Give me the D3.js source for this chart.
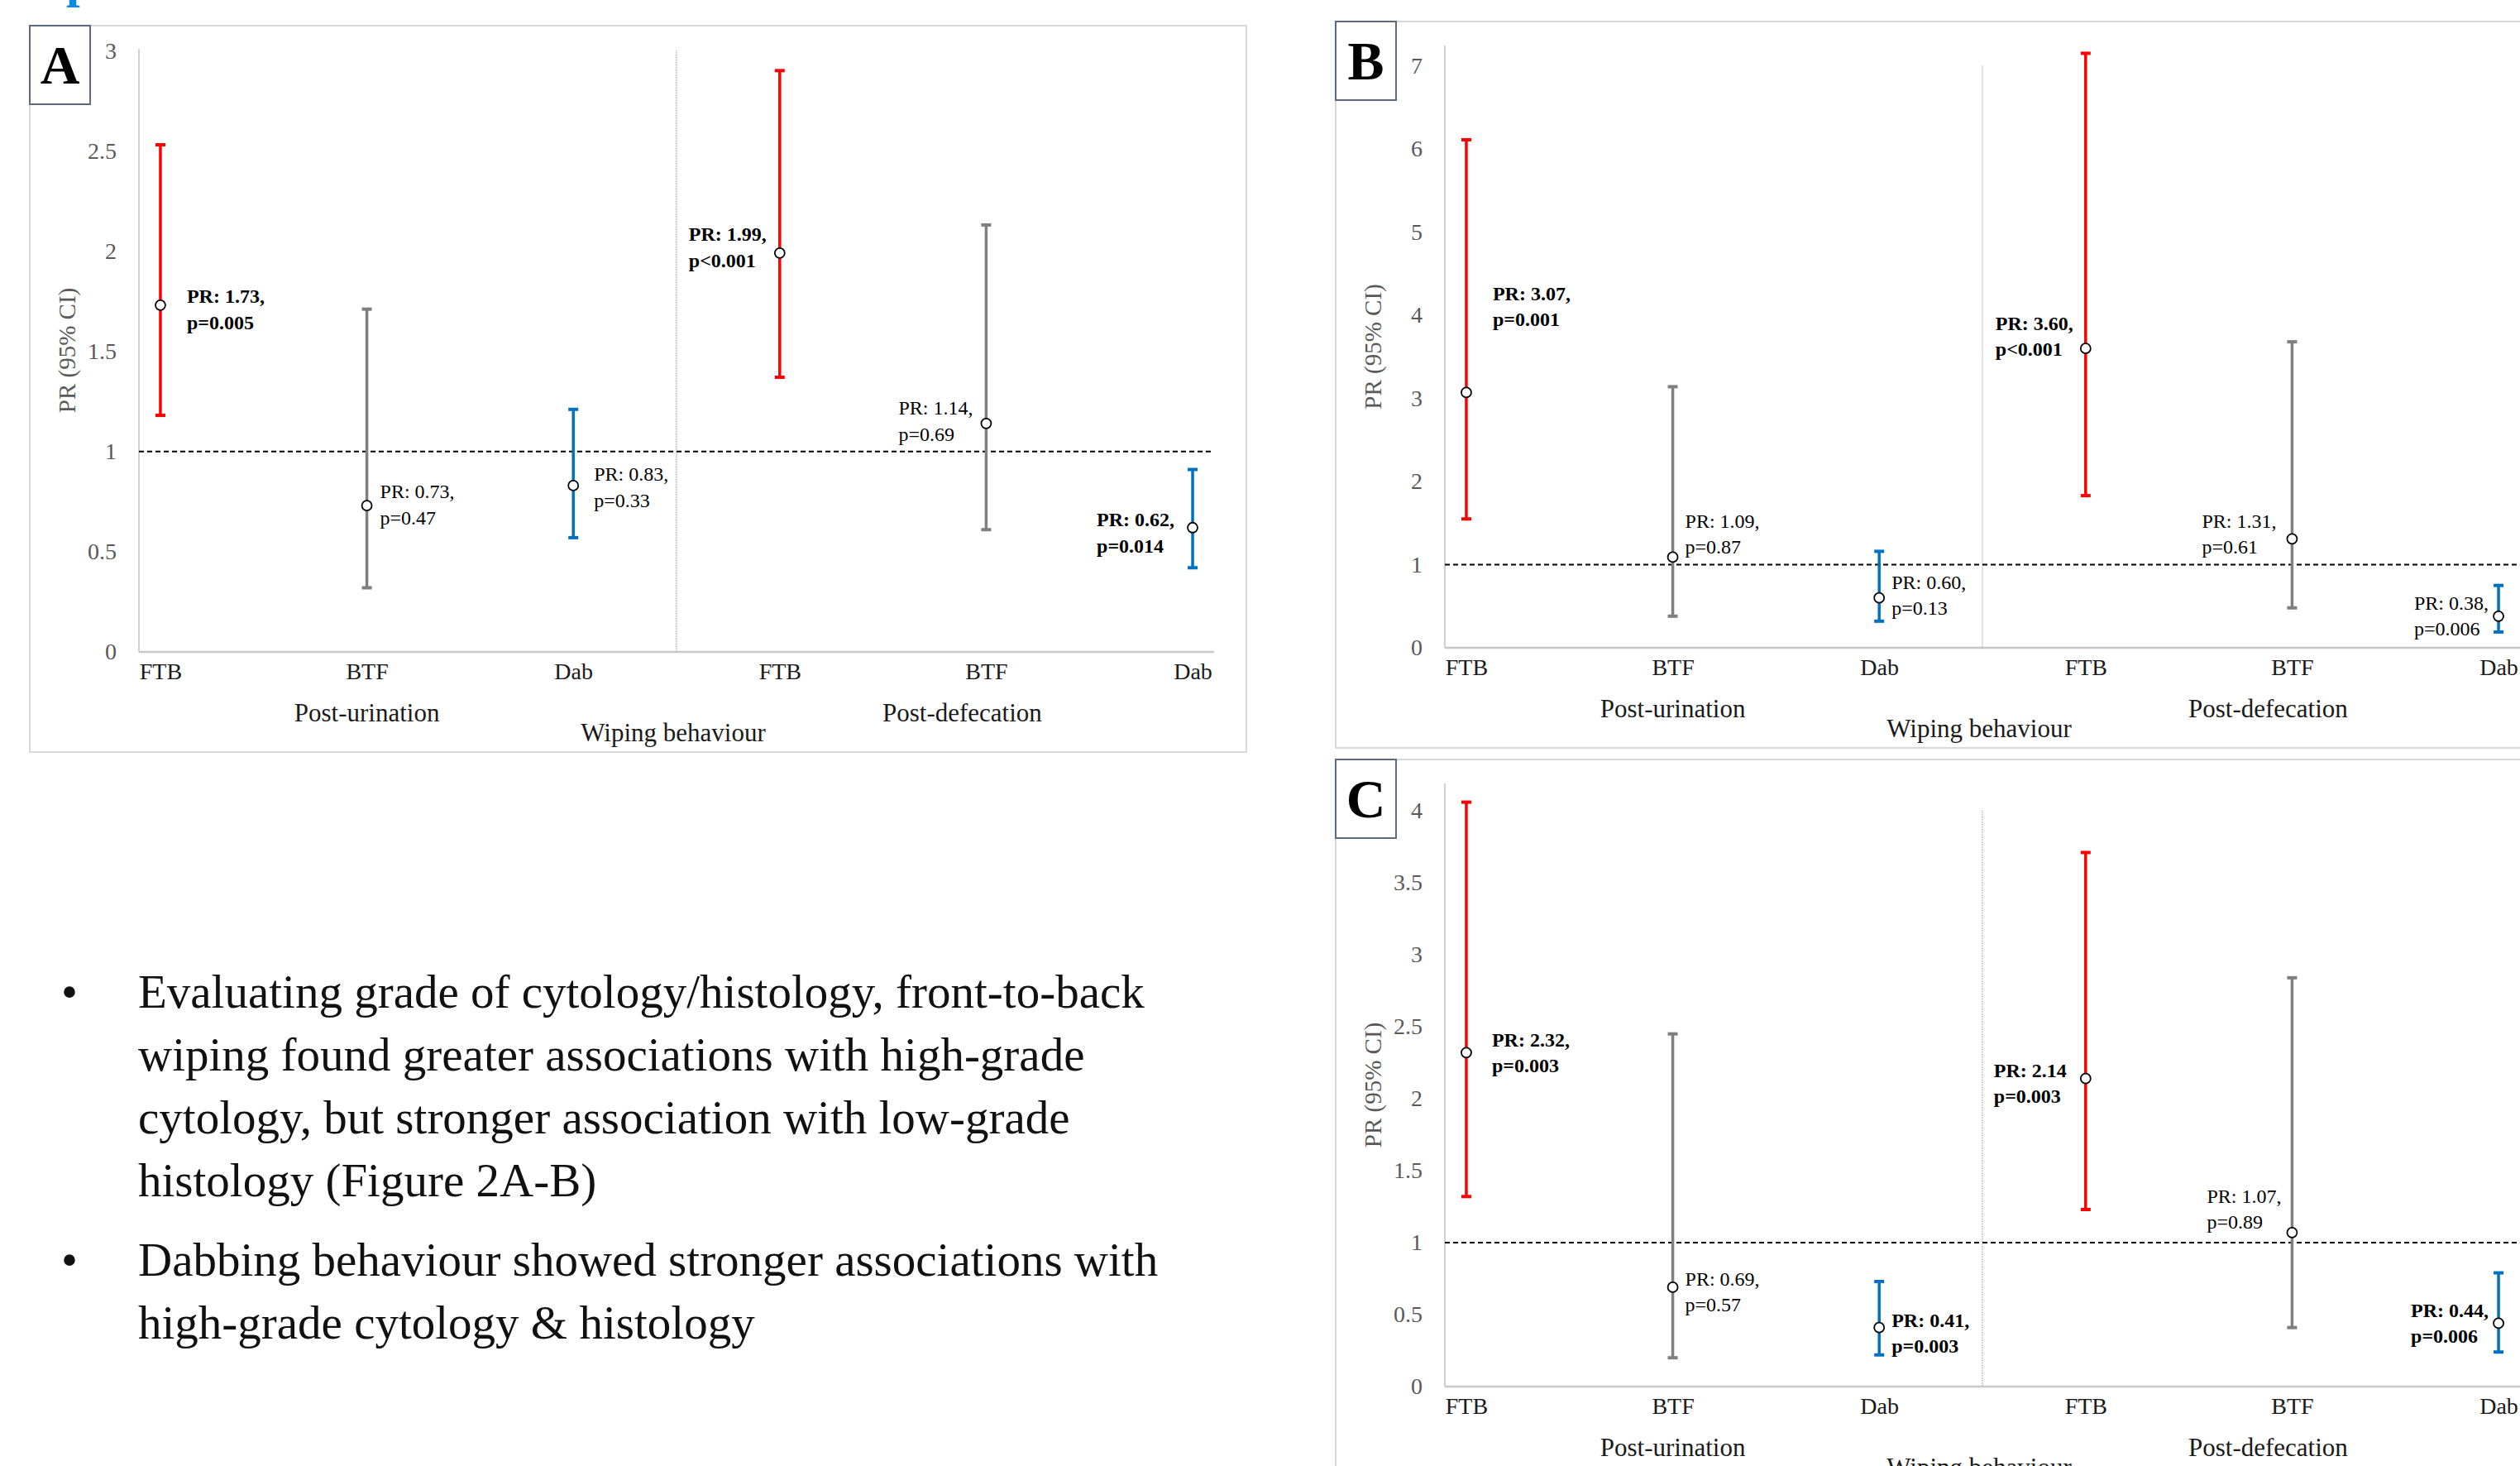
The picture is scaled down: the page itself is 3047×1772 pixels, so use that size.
<!DOCTYPE html>
<html>
<head>
<meta charset="utf-8">
<script src="https://cdn.jsdelivr.net/npm/d3@7"></script>
<style>
body { margin: 0; background: #fff; }
svg { display: block; }
</style>
</head>
<body>
<div id="chart"></div>
<script>

// categories along the x axis, and the two groups under them
var categories = ["FTB", "BTF", "Dab", "FTB", "BTF", "Dab"];
var groups = ["Post-urination", "Post-defecation"];

// panel A
var prA   = [1.73, 0.73, 0.83, 1.99, 1.14, 0.62];
var lowA  = [1.18, 0.32, 0.57, 1.37, 0.61, 0.42];
var highA = [2.53, 1.71, 1.21, 2.90, 2.13, 0.91];
var prTextA = ["PR: 1.73,", "PR: 0.73,", "PR: 0.83,", "PR: 1.99,", "PR: 1.14,", "PR: 0.62,"];
var pTextA  = ["p=0.005", "p=0.47", "p=0.33", "p<0.001", "p=0.69", "p=0.014"];
var boldA   = [true, false, false, true, false, true];
var ticksA  = [0, 0.5, 1, 1.5, 2, 2.5, 3];

// panel B
var prB   = [3.07, 1.09, 0.60, 3.60, 1.31, 0.38];
var lowB  = [1.55, 0.38, 0.32, 1.83, 0.48, 0.19];
var highB = [6.11, 3.14, 1.16, 7.15, 3.68, 0.75];
var prTextB = ["PR: 3.07,", "PR: 1.09,", "PR: 0.60,", "PR: 3.60,", "PR: 1.31,", "PR: 0.38,"];
var pTextB  = ["p=0.001", "p=0.87", "p=0.13", "p<0.001", "p=0.61", "p=0.006"];
var boldB   = [true, false, false, true, false, false];
var ticksB  = [0, 1, 2, 3, 4, 5, 6, 7];

// panel C
var prC   = [2.32, 0.69, 0.41, 2.14, 1.07, 0.44];
var lowC  = [1.32, 0.20, 0.22, 1.23, 0.41, 0.24];
var highC = [4.06, 2.45, 0.73, 3.71, 2.84, 0.79];
var prTextC = ["PR: 2.32,", "PR: 0.69,", "PR: 0.41,", "PR: 2.14", "PR: 1.07,", "PR: 0.44,"];
var pTextC  = ["p=0.003", "p=0.57", "p=0.003", "p=0.003", "p=0.89", "p=0.006"];
var boldC   = [true, false, true, true, false, true];
var ticksC  = [0, 0.5, 1, 1.5, 2, 2.5, 3, 3.5, 4];

var bulletLines = [
	["Evaluating grade of cytology/histology, front-to-back",
	 "wiping found greater associations with high-grade",
	 "cytology, but stronger association with low-grade",
	 "histology (Figure 2A-B)"],
	["Dabbing behaviour showed stronger associations with",
	 "high-grade cytology & histology"]
];

var barColors = ["#ff0000", "#7f7f7f", "#0070c0", "#ff0000", "#7f7f7f", "#0070c0"];
var FONT = "'Liberation Serif', 'Times New Roman', serif";

var svg = d3.select("#chart").append("svg")
	.attr("width", 3047)
	.attr("height", 1772)
	.attr("font-family", FONT);

svg.append("rect").attr("width", 3047).attr("height", 1772).attr("fill", "#fff");

// bit of a blue heading cut off at the top edge
svg.append("text")
	.attr("x", 80).attr("y", -4)
	.attr("font-size", 60).attr("font-weight", "bold")
	.attr("fill", "#0a8fe0")
	.text("p");

function drawPanel(cfg) {

	var g = svg.append("g");

	g.append("rect")
		.attr("x", cfg.box[0]).attr("y", cfg.box[1])
		.attr("width", cfg.box[2] - cfg.box[0])
		.attr("height", cfg.box[3] - cfg.box[1])
		.attr("fill", "none")
		.attr("stroke", "#d9d9d9")
		.attr("stroke-width", 2);

	var x = d3.scalePoint()
		.domain(d3.range(categories.length))
		.range(cfg.xRange)
		.padding(0.104);

	var yMax = d3.max(cfg.ticks);
	var y = d3.scaleLinear()
		.domain([0, yMax])
		.range([cfg.y0, cfg.y0 - yMax * cfg.unit]);

	// y axis
	var ya = g.append("g")
		.attr("transform", "translate(" + cfg.xRange[0] + ",0)")
		.call(d3.axisLeft(y).tickValues(cfg.ticks).tickSize(0).tickPadding(27).tickFormat(d3.format("~g")));
	ya.select(".domain").remove();
	ya.selectAll("text")
		.attr("font-family", FONT)
		.attr("font-size", 28)
		.attr("fill", "#595959");

	g.append("line")
		.attr("x1", cfg.xRange[0]).attr("x2", cfg.xRange[0])
		.attr("y1", cfg.axisTop).attr("y2", cfg.y0)
		.attr("stroke", "#d0d0d0").attr("stroke-width", 2);

	// x axis
	var xa = g.append("g")
		.attr("transform", "translate(0," + cfg.y0 + ")")
		.call(d3.axisBottom(x).tickSize(0).tickPadding(13).tickFormat(function(i) { return categories[i]; }));
	xa.select(".domain").remove();
	xa.selectAll("text")
		.attr("font-family", FONT)
		.attr("font-size", 28)
		.attr("fill", "#1a1a1a");

	g.append("line")
		.attr("x1", cfg.xRange[0]).attr("x2", cfg.xRange[1])
		.attr("y1", cfg.y0).attr("y2", cfg.y0)
		.attr("stroke", "#c8c8c8").attr("stroke-width", 2.5);

	// separator between the two groups
	var sepX = (x(2) + x(3)) / 2;
	g.append("line")
		.attr("x1", sepX).attr("x2", sepX)
		.attr("y1", y(yMax)).attr("y2", cfg.y0)
		.attr("stroke", "#8c8c8c").attr("stroke-width", 1)
		.attr("stroke-dasharray", "1,1");

	// reference line at PR = 1
	g.append("line")
		.attr("x1", cfg.xRange[0]).attr("x2", cfg.xRange[1])
		.attr("y1", y(1)).attr("y2", y(1))
		.attr("stroke", "#000").attr("stroke-width", 2)
		.attr("stroke-dasharray", "6,4");

	// error bars
	var idx = d3.range(categories.length);
	var bars = g.selectAll(".bar").data(idx).enter().append("g").attr("class", "bar");

	bars.append("line")
		.attr("x1", function(i) { return x(i); }).attr("x2", function(i) { return x(i); })
		.attr("y1", function(i) { return y(cfg.low[i]); })
		.attr("y2", function(i) { return y(cfg.high[i]); })
		.attr("stroke", function(i) { return barColors[i]; })
		.attr("stroke-width", 3.5);

	[cfg.low, cfg.high].forEach(function(arr) {
		bars.append("line")
			.attr("x1", function(i) { return x(i) - 6; }).attr("x2", function(i) { return x(i) + 6; })
			.attr("y1", function(i) { return y(arr[i]); })
			.attr("y2", function(i) { return y(arr[i]); })
			.attr("stroke", function(i) { return barColors[i]; })
			.attr("stroke-width", 4);
	});

	bars.append("circle")
		.attr("cx", function(i) { return x(i); })
		.attr("cy", function(i) { return y(cfg.pr[i]); })
		.attr("r", 6)
		.attr("fill", "#fff")
		.attr("stroke", "#000")
		.attr("stroke-width", 1.8);

	// data labels, two lines each
	idx.forEach(function(i) {
		var lg = g.append("g")
			.attr("font-size", 24)
			.attr("font-weight", cfg.bold[i] ? "bold" : "normal")
			.attr("fill", "#000");
		var cy = y(cfg.pr[i]) + cfg.labelDy[i];
		var t1 = lg.append("text").attr("y", cy - cfg.lineH / 2).attr("dominant-baseline", "central").text(cfg.prText[i]);
		var t2 = lg.append("text").attr("y", cy + cfg.lineH / 2).attr("dominant-baseline", "central").text(cfg.pText[i]);
		var w = Math.max(t1.node().getComputedTextLength(), t2.node().getComputedTextLength());
		var x0 = cfg.labelSide[i] == "r" ? x(i) + cfg.labelGap[i] : x(i) - cfg.labelGap[i] - w;
		t1.attr("x", x0);
		t2.attr("x", x0);
	});

	// group labels and axis title
	g.append("text")
		.attr("x", x(1)).attr("y", cfg.y0 + 73)
		.attr("text-anchor", "middle").attr("dominant-baseline", "central")
		.attr("font-size", 31).attr("fill", "#1a1a1a")
		.text(groups[0]);
	g.append("text")
		.attr("x", x(4) - 29).attr("y", cfg.y0 + 73)
		.attr("text-anchor", "middle").attr("dominant-baseline", "central")
		.attr("font-size", 31).attr("fill", "#1a1a1a")
		.text(groups[1]);
	g.append("text")
		.attr("x", sepX - 4).attr("y", cfg.y0 + 97)
		.attr("text-anchor", "middle").attr("dominant-baseline", "central")
		.attr("font-size", 31).attr("fill", "#1a1a1a")
		.text("Wiping behaviour");

	var tx = cfg.xRange[0] - 87, ty = (cfg.axisTop + cfg.y0) / 2;
	g.append("text")
		.attr("transform", "translate(" + tx + "," + ty + ") rotate(-90)")
		.attr("text-anchor", "middle").attr("dominant-baseline", "central")
		.attr("font-size", 29).attr("fill", "#595959")
		.text("PR (95% CI)");

	// panel letter
	g.append("rect")
		.attr("x", cfg.box[0]).attr("y", cfg.box[1])
		.attr("width", 73).attr("height", 95)
		.attr("fill", "#fff")
		.attr("stroke", "#5b6b7f").attr("stroke-width", 2);
	g.append("text")
		.attr("x", cfg.box[0] + 36.5).attr("y", cfg.box[1] + 70)
		.attr("text-anchor", "middle")
		.attr("font-size", 66).attr("font-weight", "bold").attr("fill", "#000")
		.text(cfg.letter);
}

drawPanel({
	letter: "A", box: [36, 31, 1507, 909],
	xRange: [168, 1468], y0: 788, unit: 242.3, axisTop: 59, ticks: ticksA,
	pr: prA, low: lowA, high: highA, prText: prTextA, pText: pTextA, bold: boldA,
	labelSide: ["r", "r", "r", "l", "l", "l"],
	labelGap: [32, 16, 25, 16, 16, 22],
	labelDy: [5, -1, 2, -7, -3, 6],
	lineH: 32
});

drawPanel({
	letter: "B", box: [1615, 26, 3070, 904],
	xRange: [1747, 3047], y0: 783, unit: 100.5, axisTop: 55, ticks: ticksB,
	pr: prB, low: lowB, high: highB, prText: prTextB, pText: pTextB, bold: boldB,
	labelSide: ["r", "r", "r", "l", "l", "l"],
	labelGap: [32, 15, 15, 15, 19, 12],
	labelDy: [-104, -28, -3, -15, -6, 0],
	lineH: 31
});

drawPanel({
	letter: "C", box: [1615, 918, 3070, 1800],
	xRange: [1747, 3047], y0: 1676, unit: 174, axisTop: 947, ticks: ticksC,
	pr: prC, low: lowC, high: highC, prText: prTextC, pText: pTextC, bold: boldC,
	labelSide: ["r", "r", "r", "l", "l", "l"],
	labelGap: [31, 15, 15, 23, 13, 12],
	labelDy: [0, 6, 7, 6, -28, 0],
	lineH: 31
});

// bullet text
var baselines = [[1218, 1294, 1370, 1446], [1542, 1618]];
var bt = svg.append("g").attr("font-size", 57).attr("fill", "#111");
bulletLines.forEach(function(lines, b) {
	bt.append("text")
		.attr("x", 84).attr("y", baselines[b][0])
		.attr("text-anchor", "middle")
		.text("\u2022");
	lines.forEach(function(line, j) {
		bt.append("text")
			.attr("x", 167).attr("y", baselines[b][j])
			.text(line);
	});
});

</script>
</body>
</html>
